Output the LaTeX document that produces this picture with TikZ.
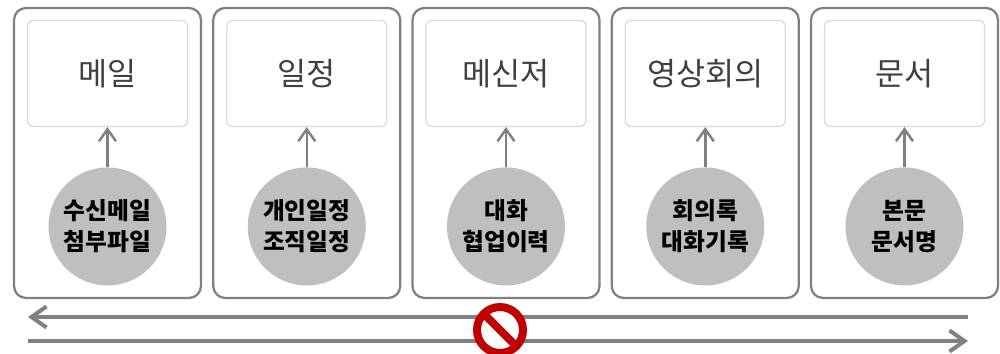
\documentclass[tikz,border=0pt]{standalone}
\usepackage{fontspec}
\setmainfont{Noto Sans CJK KR}
\usetikzlibrary{arrows.meta,positioning}
\definecolor{frameGray}{HTML}{808080}
\definecolor{titleLine}{HTML}{D9D9D9}
\definecolor{dotGray}{HTML}{BFBFBF}
\definecolor{titleInk}{HTML}{404040}
\definecolor{stopRed}{HTML}{C00000}
\tikzset{service/.style={rectangle,rounded corners=2.4mm,draw=frameGray,line width=0.045cm,minimum width=3.74cm,minimum height=5.8cm}}
\tikzset{titlebox/.style={rectangle,rounded corners=1.2mm,draw=titleLine,line width=0.025cm,minimum width=3.2cm,minimum height=2.12cm,text=titleInk,font=\fontsize{18}{21}\selectfont}}
\tikzset{dataDot/.style={circle,fill=dotGray,minimum size=2.36cm,inner sep=0pt,align=center,font=\fontsize{13.5}{17.5}\selectfont\bfseries}}
\tikzset{upArrow/.style={-{Straight Barb[length=2.4mm,width=3.4mm]},draw=frameGray,line width=0.05cm}}
\tikzset{flowArrow/.style={-{Straight Barb[length=3mm,width=4.2mm]},draw=frameGray,line width=0.08cm}}
\tikzset{noEntry/.style={circle,draw=stopRed,fill=white,line width=0.16cm,minimum size=0.92cm,inner sep=0pt,path picture={\draw[stopRed,line width=0.16cm] (path picture bounding box.north west) -- (path picture bounding box.south east);}}}

\begin{document}
\begin{tikzpicture}
\useasboundingbox (0,0) rectangle (20,7.08);
\begin{scope}[node distance=2mm]
	\node (mail) [service] at (2.15,4.02) {};
	\node (sched) [service, right =of mail] {};
	\node (chat) [service, right =of sched] {};
	\node (meet) [service, right =of chat] {};
	\node (docs) [service, right =of meet] {};
	% titles
	\node (mailtitle) [titlebox, below =2.6mm of mail.north] {메일};
	\node (schedtitle) [titlebox, below =2.6mm of sched.north] {일정};
	\node (chattitle) [titlebox, below =2.6mm of chat.north] {메신저};
	\node (meettitle) [titlebox, below =2.6mm of meet.north] {영상회의};
	\node (docstitle) [titlebox, below =2.6mm of docs.north] {문서};
	% searchable data
	\node (maildata) [dataDot, below =8mm of mailtitle] {수신메일\\첨부파일} edge [upArrow] (mailtitle);
	\node (scheddata) [dataDot, below =8mm of schedtitle] {개인일정\\조직일정} edge [upArrow] (schedtitle);
	\node (chatdata) [dataDot, below =8mm of chattitle] {대화\\협업이력} edge [upArrow] (chattitle);
	\node (meetdata) [dataDot, below =8mm of meettitle] {회의록\\대화기록} edge [upArrow] (meettitle);
	\node (docsdata) [dataDot, below =8mm of docstitle] {본문\\문서명} edge [upArrow] (docstitle);
\end{scope}
\coordinate (backStart) at (19.36,0.74);
\coordinate (backEnd) at (0.56,0.74);
\coordinate (fwdStart) at (0.56,0.26);
\coordinate (fwdEnd) at (19.36,0.26);
\draw [flowArrow] (backStart) -- (backEnd);
\draw [flowArrow] (fwdStart) -- (fwdEnd);
\node (stop) [noEntry] at (10,0.48) {};
\end{tikzpicture}
\end{document}
